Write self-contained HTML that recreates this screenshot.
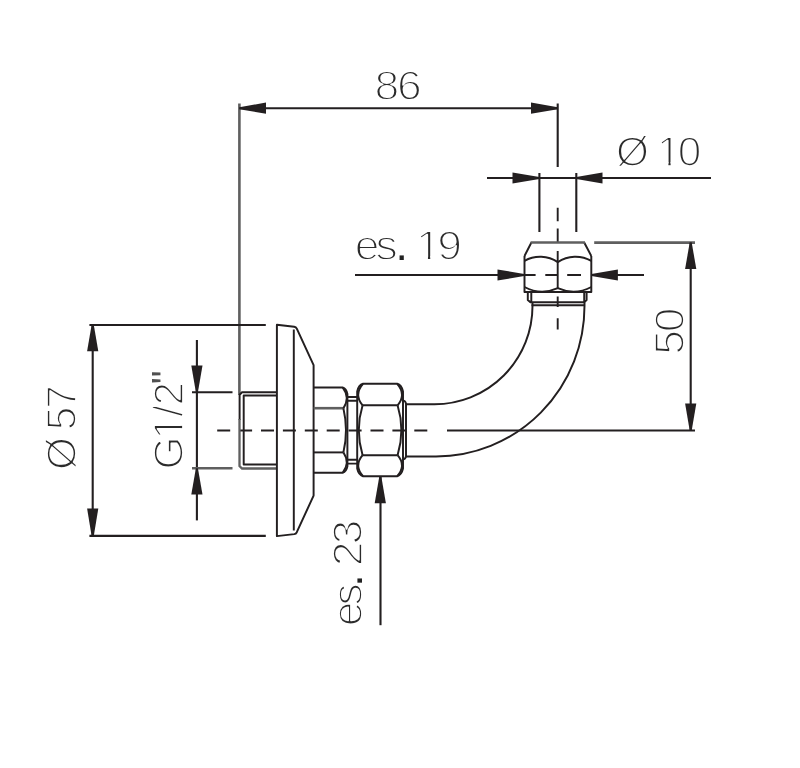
<!DOCTYPE html>
<html lang="en">
<head>
<meta charset="utf-8">
<title>Technical drawing</title>
<style>
html,body{margin:0;padding:0;background:#fff;}
body{width:800px;height:768px;overflow:hidden;}
svg{display:block;will-change:transform;}
text{font-family:"Liberation Sans",sans-serif;font-size:42.4px;fill:#2b2b2b;stroke:#fff;stroke-width:1.75px;stroke-linejoin:round;}
.p{stroke:none;fill:#222;}
.q{stroke:none;fill:#505050;font-size:38px;}
.o{fill:none;stroke:#231f20;stroke-width:1.95;stroke-linecap:butt;stroke-linejoin:round;}
.g{fill:none;stroke:#5f5f5f;stroke-width:2.6;}
.d{fill:none;stroke:#231f20;stroke-width:2.1;}
.c{fill:none;stroke:#231f20;stroke-width:1.9;}
.a{fill:#231f20;stroke:none;}
</style>
</head>
<body>
<svg width="800" height="768" viewBox="0 0 800 768">
<rect width="800" height="768" fill="#fff"/>
<!-- ===== labels ===== -->
<g id="labels">
<text transform="translate(372.50 100.20) scale(1.05 1)"><tspan x="2.02">8</tspan><tspan x="23.30">6</tspan></text>
<text transform="translate(613.75 165.60) scale(1.0 1)"><tspan x="2.26">Ø</tspan><tspan x="35.24"> </tspan><tspan x="43.21">1</tspan><tspan x="64.03">0</tspan></text>
<rect transform="translate(613.75 165.60) scale(1.0 1)" x="45.84" y="-3.57" width="8.81" height="4.17" fill="#fff"/><rect transform="translate(613.75 165.60) scale(1.0 1)" x="56.85" y="-3.57" width="8.48" height="4.17" fill="#fff"/>
<text transform="translate(352.90 259.70) scale(1.05 1)"><tspan x="1.75">e</tspan><tspan x="21.62">s</tspan><tspan x="40.63" class="p">.</tspan><tspan x="52.41"> </tspan><tspan x="60.04">1</tspan><tspan x="80.46">9</tspan></text>
<rect transform="translate(352.90 259.70) scale(1.05 1)" x="62.67" y="-3.57" width="8.81" height="4.17" fill="#fff"/><rect transform="translate(352.90 259.70) scale(1.05 1)" x="73.67" y="-3.57" width="8.48" height="4.17" fill="#fff"/>
<text transform="translate(683.90 356.50) rotate(-90) scale(1.05 1)"><tspan x="1.73">5</tspan><tspan x="23.02">0</tspan></text>
<text transform="translate(76.40 471.60) rotate(-90) scale(1.0 1)"><tspan x="1.49">Ø</tspan><tspan x="34.47"> </tspan><tspan x="41.25">5</tspan><tspan x="62.74">7</tspan></text>
<text transform="translate(182.70 471.00) rotate(-90) scale(1.0 1)"><tspan x="1.53">G</tspan><tspan x="31.46">1</tspan><tspan x="54.26">/</tspan><tspan x="65.46">2</tspan><tspan x="87.13" class="q" dy="-4.2">"</tspan></text>
<rect transform="translate(182.70 471.00) rotate(-90) scale(1.0 1)" x="34.09" y="-3.57" width="8.81" height="4.17" fill="#fff"/><rect transform="translate(182.70 471.00) rotate(-90) scale(1.0 1)" x="45.10" y="-3.57" width="8.48" height="4.17" fill="#fff"/>
<text transform="translate(362.30 628.00) rotate(-90) scale(1.05 1)"><tspan x="1.68">e</tspan><tspan x="21.34">s</tspan><tspan x="39.40" class="p">.</tspan><tspan x="51.18"> </tspan><tspan x="58.92">2</tspan><tspan x="79.57">3</tspan></text>
</g>

<!-- ===== dimension 86 ===== -->
<line class="g" x1="239.4" y1="103.5" x2="239.4" y2="395"/>
<line class="d" x1="239.4" y1="108.2" x2="557.7" y2="108.2"/>
<polygon class="a" points="239.4,107.2 266,102.6 266,113.8 239.4,109.2"/>
<polygon class="a" points="557.7,107.2 531,102.6 531,113.8 557.7,109.2"/>
<line class="d" x1="557.7" y1="103.5" x2="557.7" y2="167"/>

<!-- ===== dimension Ø 10 ===== -->
<line class="d" x1="487" y1="178" x2="711" y2="178"/>
<polygon class="a" points="539.4,177 512.5,172.4 512.5,183.6 539.4,179"/>
<polygon class="a" points="576.3,177 602.5,172.4 602.5,183.6 576.3,179"/>
<line class="d" x1="539.4" y1="173" x2="539.4" y2="232"/>
<line class="d" x1="576.3" y1="173" x2="576.3" y2="232"/>

<!-- ===== dimension es. 19 ===== -->
<line class="d" x1="355" y1="275" x2="524" y2="275"/>
<polygon class="a" points="524.2,274 497.5,269.4 497.5,280.6 524.2,276"/>
<line class="d" x1="591.4" y1="275" x2="644" y2="275"/>
<polygon class="a" points="591.4,274 617.9,269.4 617.9,280.6 591.4,276"/>

<!-- ===== dimension 50 ===== -->
<line class="g" x1="594.2" y1="242.6" x2="695" y2="242.6"/>
<line class="d" x1="447" y1="430.5" x2="695" y2="430.5"/>
<line class="d" x1="690.7" y1="242.6" x2="690.7" y2="430.5"/>
<polygon class="a" points="689.7,242.6 685.1,269 696.3,269 691.7,242.6"/>
<polygon class="a" points="689.7,430.5 685.1,403.5 696.3,403.5 691.7,430.5"/>

<!-- ===== dimension Ø 57 ===== -->
<line class="d" x1="89.4" y1="325" x2="265.8" y2="325"/>
<line class="d" x1="89.4" y1="535.9" x2="265.8" y2="535.9"/>
<line class="d" x1="92.7" y1="325" x2="92.7" y2="535.9"/>
<polygon class="a" points="91.7,324.5 87.1,351.3 98.3,351.3 93.7,324.5"/>
<polygon class="a" points="91.7,536.4 87.1,508.5 98.3,508.5 93.7,536.4"/>

<!-- ===== dimension G1/2" ===== -->
<line class="d" x1="196.9" y1="340" x2="196.9" y2="520.4"/>
<line class="d" x1="192" y1="392.2" x2="232.5" y2="392.2"/>
<line class="g" x1="192" y1="468.3" x2="232.5" y2="468.3"/>
<polygon class="a" points="195.9,392.2 191.3,365.6 202.5,365.6 197.9,392.2"/>
<polygon class="a" points="195.9,468.3 191.3,494.6 202.5,494.6 197.9,468.3"/>

<!-- ===== dimension es. 23 ===== -->
<line class="d" x1="380.5" y1="476.5" x2="380.5" y2="625.2"/>
<polygon class="a" points="379.3,476.5 374.7,503.3 385.9,503.3 381.3,476.5"/>

<!-- ===== centre lines ===== -->
<line class="c" x1="217.2" y1="430.5" x2="428" y2="430.5" stroke-dasharray="13 8.9"/>
<path class="c" d="M557.7 207.7V221.3M557.7 228.5V242M557.7 251V289M557.7 296.6V307M557.7 318.3V329.4"/>
<path class="c" d="M525 275H535.6M545.3 275H557M567.2 275H581"/>

<!-- ===== threaded stub ===== -->
<path class="o" d="M276.9 392.3H242L239.6 394.7V420"/>
<path class="g" d="M239.5 419V466L242 468.5H276.9" style="stroke-width:2.3"/>
<path class="o" d="M276.9 395.4H243.7V464.5H276.9"/>

<!-- ===== flange ===== -->
<path class="o" d="M276.9 324.7L294.2 326.7Q296 327 296.8 328.6L313.6 365.2V495.6L296.8 532.2Q296 533.8 294.2 534.1L276.9 536.1Z"/>
<line class="o" x1="293.8" y1="329.5" x2="293.8" y2="530.5"/>

<!-- ===== hex body 1 ===== -->
<path class="o" d="M313.6 387.5H342.6Q346.4 388.8 347.4 394V466.4Q346.4 471.6 342.6 472.8H313.6"/>
<line class="g" x1="313.6" y1="408.2" x2="343.4" y2="408.2"/>
<line class="o" x1="313.6" y1="452.4" x2="343.4" y2="452.4"/>
<path class="o" d="M343.4 408.2Q348.6 430.4 343.4 452.4"/>
<path class="o" d="M342.8 387.7Q350.4 397.6 343.4 408.2M343.4 452.4Q350.4 462.6 342.8 472.6"/>

<!-- ===== neck ===== -->
<path class="o" d="M347.5 397H357.2M347.5 400.8H357.2M347.5 459.8H357.2M347.5 463.6H357.2"/>

<!-- ===== nut 2 ===== -->
<path class="o" d="M363 383.8H397.2Q401.6 385 403 391.5V468.6Q401.6 475 397.2 476.2H363Q358.6 475 357.2 468.6V391.5Q358.6 385 363 383.8Z"/>
<path class="o" d="M362.6 405.3H397.6M362.6 455.2H397.6"/>
<path class="o" d="M362.6 405.3Q355 430.2 362.6 455.2M397.6 405.3Q405.2 430.2 397.6 455.2"/>
<path class="o" d="M363 383.8Q353.6 394.6 362.6 405.3M397.2 383.8Q406.6 394.6 397.6 405.3M363 476.2Q353.6 465.8 362.6 455.2M397.2 476.2Q406.6 465.8 397.6 455.2"/>

<!-- ===== collar + pipe ===== -->
<path class="o" d="M403 400.6Q405.5 400.8 406 403.6V456.4Q405.5 459.2 403 459.4"/>
<path class="o" d="M406 404.2H434.5A98 98.2 0 0 0 532.5 306V302.3"/>
<path class="o" d="M406 456.4H436A148.5 150.4 0 0 0 584.5 306V302.3"/>

<!-- ===== top nut ===== -->
<path class="o" d="M524.5 256V292H591.3V256"/>
<path class="o" d="M524.5 256L531.4 242.5M591.3 256L584.2 242.5"/>
<line class="g" x1="530.6" y1="242.5" x2="585" y2="242.5"/>
<path class="o" d="M524.5 260.8A32 32 0 0 1 557.8 262.1A32 32 0 0 1 591.3 260.8"/>
<path class="o" d="M524.5 287A38 38 0 0 0 557.8 288.1A38 38 0 0 0 591.3 287"/>
<!-- neck below top nut -->
<path class="o" d="M527.8 292V300L530.4 302.3H584.2L586.6 300V292M531.3 292V302M584.2 292V302M531.5 305.2H584.4"/>
</svg>
</body>
</html>
